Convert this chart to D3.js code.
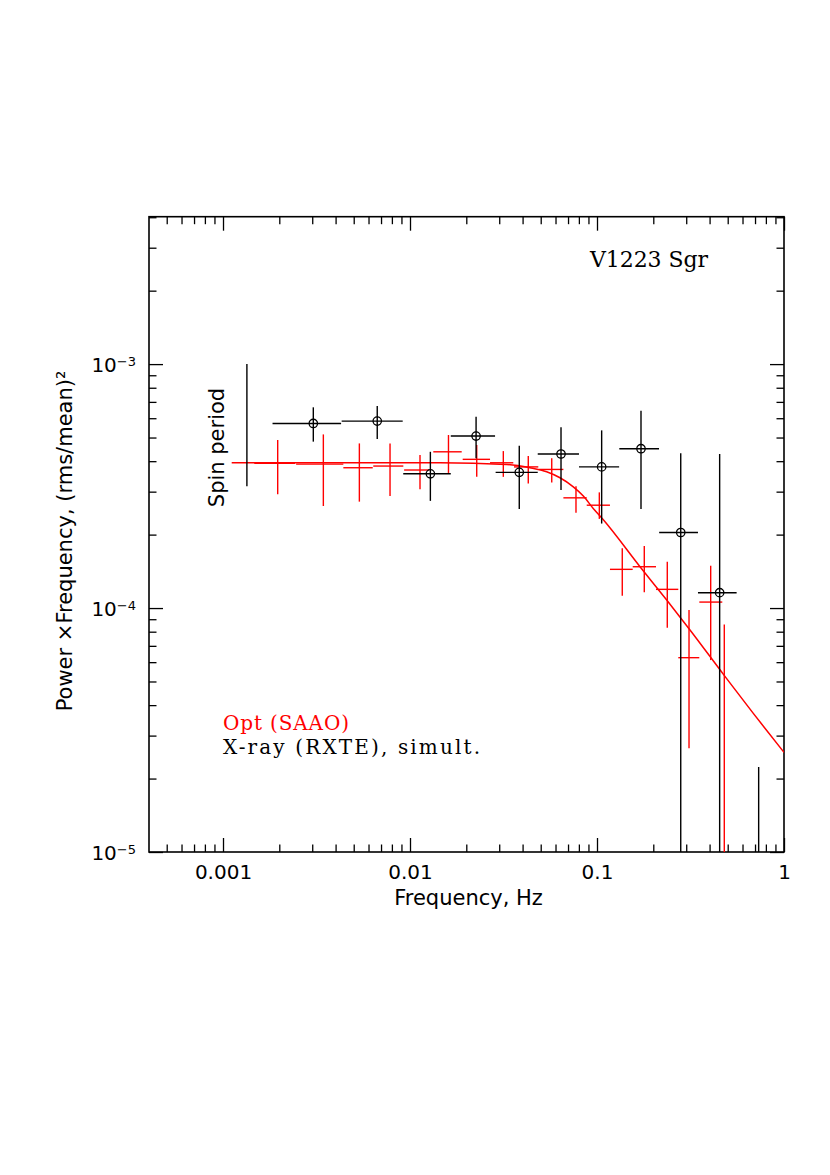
<!DOCTYPE html>
<html>
<head>
<meta charset="utf-8">
<script src="https://cdn.jsdelivr.net/npm/d3@7"></script>
<style>
  html, body { margin: 0; padding: 0; background: #ffffff; }
  svg { display: block; }
</style>
</head>
<body>
<svg id="chart" width="830" height="1175"></svg>
<script>
// ---------------- DATA ----------------
// X-ray (RXTE) power spectrum, frequency (Hz) and power x frequency
const xrayFreq   = [3.04e-3, 6.68e-3, 0.01285, 0.02256, 0.0384, 0.0642, 0.1059, 0.1719, 0.2804, 0.4528, 0.732];
const xrayFreqLo = [1.84e-3, 4.31e-3, 9.2e-3, 0.01652, 0.0287, 0.0482, 0.0801, 0.1316, 0.2150, 0.3467, 0.62];
const xrayFreqHi = [4.28e-3, 9.14e-3, 0.01652, 0.0285, 0.0482, 0.0801, 0.1313, 0.2146, 0.3467, 0.558, 0.86];
const xrayPow    = [5.71e-4, 5.84e-4, 3.55e-4, 5.07e-4, 3.60e-4, 4.28e-4, 3.79e-4, 4.50e-4, 2.04e-4, 1.156e-4, 5e-6];
const xrayPowLo  = [4.81e-4, 4.93e-4, 2.75e-4, 4.11e-4, 2.55e-4, 3.05e-4, 2.22e-4, 2.55e-4, 1e-6, 1e-6, 1e-6];
const xrayPowHi  = [6.65e-4, 6.73e-4, 4.37e-4, 6.08e-4, 4.63e-4, 5.51e-4, 5.35e-4, 6.44e-4, 4.31e-4, 4.28e-4, 2.23e-5];

// Optical (SAAO) power spectrum
const optFreq   = [1.961e-3, 3.44e-3, 5.36e-3, 7.82e-3, 0.01131, 0.01606, 0.02274, 0.03155, 0.0429, 0.05727, 0.0772, 0.1029, 0.1365, 0.179, 0.2376, 0.3105, 0.4055, 0.4794];
const optFreqLo = [1.47e-3, 2.46e-3, 4.40e-3, 6.36e-3, 9.3e-3, 0.01332, 0.01913, 0.02679, 0.03598, 0.0491, 0.0661, 0.0881, 0.1173, 0.1552, 0.2068, 0.2721, 0.3524, 0.4677];
const optFreqHi = [2.43e-3, 4.40e-3, 6.32e-3, 9.21e-3, 0.01268, 0.0189, 0.02679, 0.03567, 0.04854, 0.0661, 0.0881, 0.1173, 0.1552, 0.2068, 0.2721, 0.3524, 0.4677, 0.53];
const optPow    = [3.92e-4, 3.89e-4, 3.76e-4, 3.82e-4, 3.68e-4, 4.37e-4, 4.07e-4, 3.94e-4, 3.79e-4, 3.70e-4, 2.83e-4, 2.64e-4, 1.441e-4, 1.477e-4, 1.193e-4, 6.26e-5, 1.058e-4, 5e-6];
const optPowLo  = [2.93e-4, 2.62e-4, 2.73e-4, 2.88e-4, 3.07e-4, 3.58e-4, 3.45e-4, 3.45e-4, 3.24e-4, 3.27e-4, 2.46e-4, 2.32e-4, 1.123e-4, 1.16e-4, 8.31e-5, 2.66e-5, 6.12e-5, 1e-6];
const optPowHi  = [4.88e-4, 5.15e-4, 4.73e-4, 4.73e-4, 4.24e-4, 5.12e-4, 4.66e-4, 4.40e-4, 4.20e-4, 4.11e-4, 3.16e-4, 2.98e-4, 1.757e-4, 1.795e-4, 1.548e-4, 9.81e-5, 1.491e-4, 8.57e-5];

// Model curve
const modelFreq = [1.113e-3, 0.01447, 0.0329, 0.0438, 0.0538, 0.0634, 0.0747, 0.0845, 0.0955, 0.1081, 0.1698, 0.2359, 0.3143, 0.4776, 0.6853, 1];
const modelPow  = [3.94e-4, 3.94e-4, 3.88e-4, 3.76e-4, 3.62e-4, 3.42e-4, 3.14e-4, 2.88e-4, 2.56e-4, 2.30e-4, 1.477e-4, 1.078e-4, 8.13e-5, 5.31e-5, 3.70e-5, 2.56e-5];

// Spin period marker
const spinFreq = 1.342e-3;
const spinPowRange = [3.16e-4, 1e-3];

// Axes
const xDomain = [4.02e-4, 1];
const yDomain = [1e-5, 4.02e-3];
const xTickValues = [0.001, 0.01, 0.1, 1];
const xTickLabels = ["0.001", "0.01", "0.1", "1"];
const yTickValues = [1e-5, 1e-4, 1e-3];
const yTickBase = ["10", "10", "10"];
const yTickExp = ["\u22125", "\u22124", "\u22123"];

const titleText = "V1223 Sgr";
const xTitle = "Frequency, Hz";
const yTitle = "Power \u00d7Frequency, (rms/mean)\u00b2";
const spinLabel = "Spin period";
const legendOpt = "Opt (SAAO)";
const legendX = "X-ray (RXTE), simult.";

// ---------------- LAYOUT ----------------
const L = 149, R = 784, T = 216.7, B = 852;
const RED = "#ff0000", BLACK = "#000000";
const svg = d3.select("#chart");
svg.append("rect").attr("width", 830).attr("height", 1175).attr("fill", "#fff");

const x = d3.scaleLog().domain(xDomain).range([L, R]);
const y = d3.scaleLog().domain(yDomain).range([B, T]);

function minorTicks(domain) {
  const out = [];
  for (let e = -6; e <= 1; e++) {
    for (let m = 2; m <= 9; m++) {
      const v = m * Math.pow(10, e);
      if (v >= domain[0] * 0.999 && v <= domain[1] * 1.001) out.push(v);
    }
  }
  return out;
}
const xMinor = minorTicks(xDomain);
const yMinor = minorTicks(yDomain);

const MAJ = 14, MIN = 7.5;
function styleAxis(g) {
  g.select(".domain").remove();
  g.selectAll(".tick line").attr("stroke", BLACK).attr("stroke-width", 1.3);
}

// bottom
svg.append("g").attr("transform", `translate(0,${B})`)
  .call(d3.axisBottom(x).tickValues(xTickValues).tickSize(-MAJ).tickSizeOuter(0).tickPadding(13)
    .tickFormat((d, i) => xTickLabels[i]))
  .call(styleAxis)
  .call(g => g.selectAll(".tick text").attr("font-family", "DejaVu Sans").attr("font-size", 20).attr("fill", BLACK));
svg.append("g").attr("transform", `translate(0,${B})`)
  .call(d3.axisBottom(x).tickValues(xMinor).tickSize(-MIN).tickSizeOuter(0).tickFormat(""))
  .call(styleAxis);
// top
svg.append("g").attr("transform", `translate(0,${T})`)
  .call(d3.axisTop(x).tickValues(xTickValues).tickSize(-MAJ).tickSizeOuter(0).tickFormat(""))
  .call(styleAxis);
svg.append("g").attr("transform", `translate(0,${T})`)
  .call(d3.axisTop(x).tickValues(xMinor).tickSize(-MIN).tickSizeOuter(0).tickFormat(""))
  .call(styleAxis);
// left
svg.append("g").attr("transform", `translate(${L},0)`)
  .call(d3.axisLeft(y).tickValues(yTickValues).tickSize(-MAJ).tickSizeOuter(0).tickFormat(""))
  .call(styleAxis);
svg.append("g").attr("transform", `translate(${L},0)`)
  .call(d3.axisLeft(y).tickValues(yMinor).tickSize(-MIN).tickSizeOuter(0).tickFormat(""))
  .call(styleAxis);
// right
svg.append("g").attr("transform", `translate(${R},0)`)
  .call(d3.axisRight(y).tickValues(yTickValues).tickSize(-MAJ).tickSizeOuter(0).tickFormat(""))
  .call(styleAxis);
svg.append("g").attr("transform", `translate(${R},0)`)
  .call(d3.axisRight(y).tickValues(yMinor).tickSize(-MIN).tickSizeOuter(0).tickFormat(""))
  .call(styleAxis);

// y tick labels with superscripts
yTickValues.forEach((v, i) => {
  const t = svg.append("text")
    .attr("x", L - 13).attr("y", y(v) + 8.3)
    .attr("text-anchor", "end")
    .attr("font-family", "DejaVu Sans").attr("font-size", 20).attr("fill", BLACK);
  t.append("tspan").text(yTickBase[i]);
  t.append("tspan").attr("font-size", 13).attr("dy", -6.5).text(yTickExp[i]);
});

// frame
svg.append("rect").attr("x", L).attr("y", T).attr("width", R - L).attr("height", B - T)
  .attr("fill", "none").attr("stroke", BLACK).attr("stroke-width", 1.6);

// clip
svg.append("clipPath").attr("id", "clip").append("rect")
  .attr("x", L).attr("y", T).attr("width", R - L).attr("height", B - T);
const plot = svg.append("g").attr("clip-path", "url(#clip)");

// model curve
const modelData = modelFreq.map((f, i) => ({ f, p: modelPow[i] }));
plot.append("path").datum(modelData)
  .attr("d", d3.line().x(d => x(d.f)).y(d => y(d.p)).curve(d3.curveMonotoneX))
  .attr("fill", "none").attr("stroke", RED).attr("stroke-width", 1.5);

// optical error crosses
const opt = optFreq.map((f, i) => ({ f, lo: optFreqLo[i], hi: optFreqHi[i], p: optPow[i], plo: optPowLo[i], phi: optPowHi[i] }));
const og = plot.append("g").attr("stroke", RED).attr("stroke-width", 1.4);
og.selectAll("line.h").data(opt).join("line").attr("class", "h")
  .attr("x1", d => x(d.lo)).attr("x2", d => x(d.hi)).attr("y1", d => y(d.p)).attr("y2", d => y(d.p));
og.selectAll("line.v").data(opt).join("line").attr("class", "v")
  .attr("x1", d => x(d.f)).attr("x2", d => x(d.f)).attr("y1", d => y(d.plo)).attr("y2", d => y(d.phi));

// spin period marker
plot.append("line")
  .attr("x1", x(spinFreq)).attr("x2", x(spinFreq))
  .attr("y1", y(spinPowRange[0])).attr("y2", y(spinPowRange[1]))
  .attr("stroke", BLACK).attr("stroke-width", 1.4);

// x-ray points
const xr = xrayFreq.map((f, i) => ({ f, lo: xrayFreqLo[i], hi: xrayFreqHi[i], p: xrayPow[i], plo: xrayPowLo[i], phi: xrayPowHi[i] }));
const xg = plot.append("g").attr("stroke", BLACK).attr("stroke-width", 1.4);
xg.selectAll("line.h").data(xr).join("line").attr("class", "h")
  .attr("x1", d => x(d.lo)).attr("x2", d => x(d.hi)).attr("y1", d => y(d.p)).attr("y2", d => y(d.p));
xg.selectAll("line.v").data(xr).join("line").attr("class", "v")
  .attr("x1", d => x(d.f)).attr("x2", d => x(d.f)).attr("y1", d => y(d.plo)).attr("y2", d => y(d.phi));
xg.selectAll("circle").data(xr).join("circle")
  .attr("cx", d => x(d.f)).attr("cy", d => y(d.p)).attr("r", 4.2)
  .attr("fill", "none").attr("stroke-width", 1.3);

// texts
svg.append("text").attr("x", 590).attr("y", 267)
  .attr("font-family", "DejaVu Serif").attr("font-size", 22).attr("fill", BLACK)
  .attr("textLength", 118).attr("lengthAdjust", "spacing").text(titleText);

svg.append("text").attr("x", 223).attr("y", 730)
  .attr("font-family", "DejaVu Serif").attr("font-size", 20).attr("fill", RED)
  .attr("textLength", 126).attr("lengthAdjust", "spacing").text(legendOpt);
svg.append("text").attr("x", 223).attr("y", 753.5)
  .attr("font-family", "DejaVu Serif").attr("font-size", 20).attr("fill", BLACK)
  .attr("textLength", 257).attr("lengthAdjust", "spacing").text(legendX);

svg.append("text").attr("transform", "translate(224,447.5) rotate(-90)")
  .attr("text-anchor", "middle")
  .attr("font-family", "DejaVu Sans").attr("font-size", 21).attr("fill", BLACK)
  .text(spinLabel);

svg.append("text").attr("x", (L + R) / 2 + 2).attr("y", 905)
  .attr("text-anchor", "middle")
  .attr("font-family", "DejaVu Sans").attr("font-size", 21).attr("fill", BLACK)
  .text(xTitle);

svg.append("text").attr("transform", "translate(72,541) rotate(-90)")
  .attr("text-anchor", "middle")
  .attr("font-family", "DejaVu Sans").attr("font-size", 21).attr("fill", BLACK)
  .text(yTitle);
</script>
</body>
</html>
